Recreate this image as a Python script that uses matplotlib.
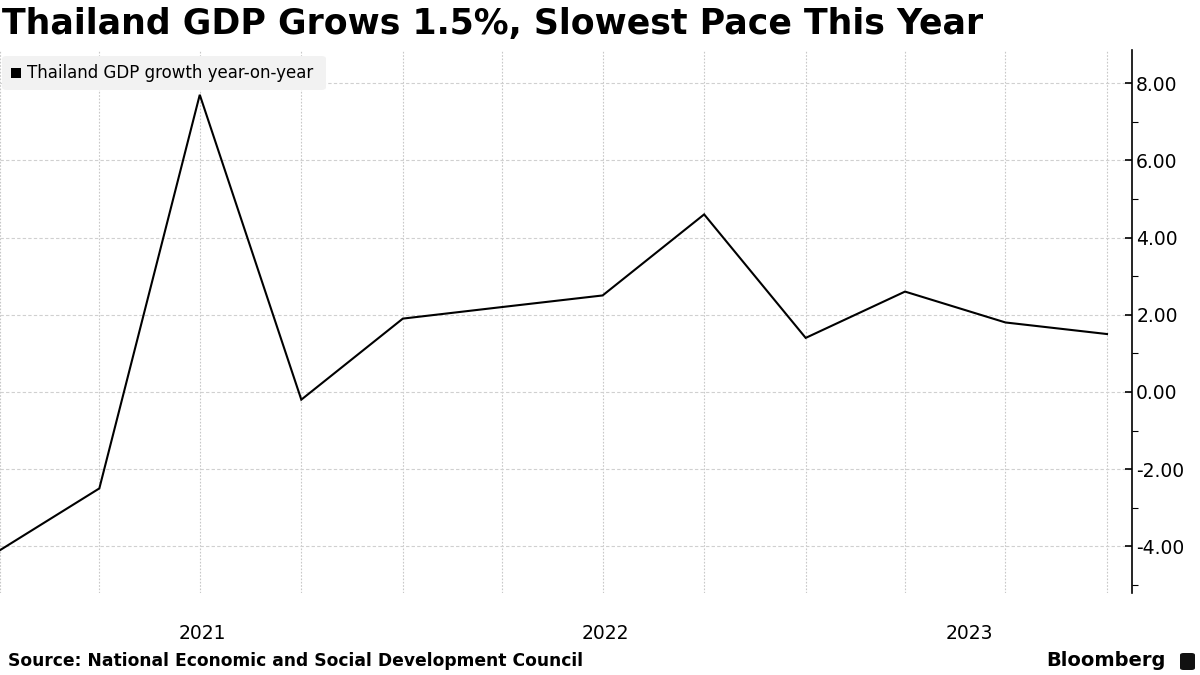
import matplotlib
matplotlib.use("Agg")
import matplotlib.pyplot as plt
import matplotlib.dates as mdates
from matplotlib.patches import FancyBboxPatch, Rectangle
import datetime as dt

# Data: quarter-end dates and GDP growth y/y (%)
quarters = ["2020-12-31", "2021-03-31", "2021-06-30", "2021-09-30", "2021-12-31",
            "2022-03-31", "2022-06-30", "2022-09-30", "2022-12-31",
            "2023-03-31", "2023-06-30", "2023-09-30"]
gdp_growth = [-4.1, -2.5, 7.7, -0.2, 1.9, 2.2, 2.5, 4.6, 1.4, 2.6, 1.8, 1.5]
years = [2021, 2022, 2023]
y_ticks = [-4.0, -2.0, 0.0, 2.0, 4.0, 6.0, 8.0]

title = "Thailand GDP Grows 1.5%, Slowest Pace This Year"
legend_label = "Thailand GDP growth year-on-year"
source = "Source: National Economic and Social Development Council"

dates = [dt.datetime.strptime(q, "%Y-%m-%d") for q in quarters]
xn = mdates.date2num(dates)

fig = plt.figure(figsize=(12, 6.75), dpi=100)
ax = fig.add_axes([0.0, 1 - 593 / 675, 1132 / 1200, (593 - 50) / 675])

ax.plot(xn, gdp_growth, color="black", lw=1.5, solid_joinstyle="miter", clip_on=False, zorder=3)

x_left = xn[0]
x_right = xn[0] + (xn[-1] - xn[0]) * 1132 / 1107
ax.set_xlim(x_left, x_right)
ax.set_ylim(-5.21, 8.86)

# vertical dotted grid at each quarter
for x in xn:
    ax.axvline(x, color="#c8c8c8", lw=0.8, ls=(0, (1.5, 1.5)), zorder=1)
# horizontal dashed grid at major y ticks
for y in y_ticks:
    ax.axhline(y, color="#d0d0d0", lw=0.8, ls=(0, (3, 2)), zorder=1)

for s in ["top", "left", "bottom"]:
    ax.spines[s].set_visible(False)
ax.spines["right"].set_color("black")
ax.spines["right"].set_linewidth(1.2)

ax.yaxis.tick_right()
ax.set_yticks(y_ticks)
ax.set_yticklabels([f"{v:.2f}" for v in y_ticks], fontsize=13.5)
ax.set_yticks([-5, -3, -1, 1, 3, 5, 7], minor=True)
ax.tick_params(axis="y", which="major", direction="in", length=5, width=1.2, pad=3, colors="black")
ax.tick_params(axis="y", which="minor", direction="out", length=4, width=0.8, colors="black")

# x axis: year labels centred on the visible span of each year
centers = []
for yv in years:
    a = max(mdates.date2num(dt.datetime(yv, 1, 1)), x_left)
    b = min(mdates.date2num(dt.datetime(yv + 1, 1, 1)), x_right)
    centers.append((a + b) / 2)
ax.set_xticks(centers)
ax.set_xticklabels([str(y) for y in years], fontsize=13.5)
ax.tick_params(axis="x", length=0, pad=22)

# legend box
fig.patches.append(FancyBboxPatch((2 / 1200, 1 - 90 / 675), 324 / 1200, 34 / 675,
                                  boxstyle="round,pad=0,rounding_size=0.004",
                                  transform=fig.transFigure, facecolor="#f2f2f2",
                                  edgecolor="none", zorder=5))
fig.patches.append(Rectangle((11 / 1200, 1 - 78 / 675), 10 / 1200, 10 / 675,
                             transform=fig.transFigure, facecolor="black", zorder=6))
fig.text(27 / 1200, 1 - 73 / 675, legend_label, fontsize=12, va="center", ha="left", zorder=7)

fig.text(2 / 1200, 1 - 24 / 675, title, fontsize=25, fontweight="bold", va="center", ha="left")
fig.text(8 / 1200, 1 - 661 / 675, source, fontsize=12.3, fontweight="bold", va="center", ha="left")

fig.text(1166 / 1200, 1 - 661 / 675, "Bloomberg", fontsize=14, fontweight="bold",
         va="center", ha="right")
fig.patches.append(FancyBboxPatch((1180 / 1200, 1 - 670 / 675), 15 / 1200, 17 / 675,
                                  boxstyle="round,pad=0,rounding_size=0.003",
                                  transform=fig.transFigure, facecolor="#111111",
                                  edgecolor="none"))

fig.savefig("out.png", dpi=100)
